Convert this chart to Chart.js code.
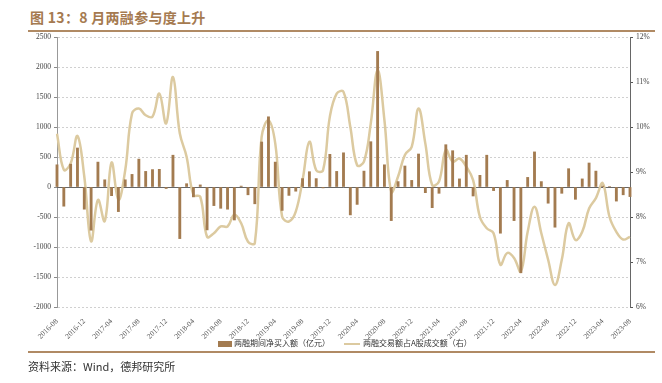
<!DOCTYPE html>
<html><head><meta charset="utf-8">
<script src="https://cdn.jsdelivr.net/npm/chart.js@4/dist/chart.umd.min.js"></script>
<style>
body{margin:0;width:662px;height:383px;background:#fff;position:relative;overflow:hidden;font-family:"Noto Sans CJK SC",sans-serif}
#title{position:absolute;left:30px;top:7px;font-size:14px;font-weight:bold;color:#a57a50;letter-spacing:0.3px;white-space:nowrap}
.rule{position:absolute;left:28px;width:627px;height:2px;background:#b08a64}
#wrap{position:absolute;left:0;top:0;width:662px;height:383px}
.leg{position:absolute;top:337px;font-size:8px;color:#333;white-space:nowrap;line-height:12px}
.box{display:inline-block;width:14px;height:6px;background:#a37b50;vertical-align:middle;margin-right:2px}
.ln{display:inline-block;width:16px;height:2px;background:#dccaa0;vertical-align:middle;margin-right:3px}
#source{position:absolute;left:28px;top:358px;font-size:11px;color:#333;white-space:nowrap}
</style></head>
<body>
<div id="title">图 13：8 月两融参与度上升</div>
<div class="rule" style="top:30px"></div>
<div id="wrap"><canvas id="c" width="662" height="383"></canvas></div>
<div class="leg" style="left:218px"><span class="box"></span>两融期间净买入额（亿元）</div>
<div class="leg" style="left:344px"><span class="ln"></span>两融交易额占A股成交额（右）</div>
<div class="rule" style="top:351px"></div>
<div id="source">资料来源：Wind，德邦研究所</div>
<script>
const startYear = 2016, startMonth = 8, monthCount = 85;
const months = [];
for (let i = 0; i < monthCount; i++) {
  const m = startMonth - 1 + i;
  const y = startYear + Math.floor(m / 12);
  const mm = (m % 12) + 1;
  months.push(y + '-' + String(mm).padStart(2, '0'));
}
// 两融期间净买入额（亿元）
const netBuy = [370,-320,380,650,-370,-720,415,120,-145,-410,
  120,210,465,260,290,295,-25,530,-860,55,
  -165,35,-715,-310,-355,-370,-550,15,-130,-280,
  750,1170,415,-390,-140,-70,140,255,140,-15,
  545,260,570,-465,-290,265,755,2260,370,-560,
  90,350,110,550,-95,-345,-105,705,605,135,
  530,-150,195,530,-60,-770,110,-560,-1430,160,
  585,90,-270,-670,-105,305,-205,135,400,265,
  15,8,-235,-130,-160];
// 两融交易额占A股成交额（%）
const ratio = [9.85,9.05,9.19,9.8,8.9,7.46,8.38,7.91,9.21,8.38,
  9.04,10.3,10.41,10.26,10.23,10.74,10.08,11.11,9.86,9.34,
  8.49,8.45,7.56,7.64,7.79,7.79,8.05,7.86,7.45,7.42,
  9.78,10.15,9.63,8.01,7.9,8.12,8.82,9.67,9.04,9.04,
  10.23,10.74,10.78,10.0,9.15,9.23,10.08,11.26,10.15,8.56,
  8.9,9.38,9.56,10.41,9.63,8.71,8.79,9.49,9.23,9.3,
  9.12,8.82,8.0,7.75,7.64,6.94,7.2,7.09,6.79,7.67,
  8.23,7.64,7.05,6.49,7.05,7.86,7.49,7.67,8.19,8.42,
  8.75,8.0,7.67,7.5,7.56];
const leftTicks = [-2000,-1500,-1000,-500,0,500,1000,1500,2000,2500];
const rightTicks = [6,7,8,9,10,11,12];

const zeroLine = {
  id: 'zeroLine',
  beforeDatasetsDraw(chart) {
    const y = chart.scales.y.getPixelForValue(0);
    const a = chart.chartArea, ctx = chart.ctx;
    ctx.save();
    ctx.strokeStyle = '#666'; ctx.lineWidth = 1;
    ctx.beginPath(); ctx.moveTo(a.left, Math.round(y) + 0.5); ctx.lineTo(a.right, Math.round(y) + 0.5); ctx.stroke();
    ctx.restore();
  }
};
const tickFont = {family: '"Liberation Serif", serif', size: 7.5};
new Chart(document.getElementById('c'), {
  data: {
    labels: months,
    datasets: [
      {type: 'bar', label: '两融期间净买入额（亿元）', data: netBuy, yAxisID: 'y',
       backgroundColor: '#a37b50', barThickness: 2.2, order: 0, clip: false},
      {type: 'line', label: '两融交易额占A股成交额（右）', data: ratio, yAxisID: 'y1',
       borderColor: '#dccaa0', borderWidth: 2.5, pointRadius: 0, tension: 0.4, order: 1, fill: false}
    ]
  },
  options: {
    responsive: false, animation: false, maintainAspectRatio: false,
    layout: {padding: {top: 37, left: 0, right: 0, bottom: 0}},
    plugins: {legend: {display: false}, tooltip: {enabled: false}},
    scales: {
      x: {
        type: 'category', offset: false,
        grid: {display: false}, border: {display: false},
        ticks: {autoSkip: false, maxRotation: 45, minRotation: 45, color: '#555', font: tickFont, padding: 2,
          callback: (v, i) => (i % 4 === 0 ? months[i] : '')},
        afterFit: s => { s.height = 76; }
      },
      y: {
        position: 'left', min: -2000, max: 2500,
        afterBuildTicks: s => { s.ticks = leftTicks.map(v => ({value: v})); },
        grid: {color: '#d0d0d0', tickColor: '#888', tickLength: 3, lineWidth: 1},
        border: {display: true, color: '#999', dash: [2, 2], width: 1},
        ticks: {color: '#444', font: tickFont, padding: 3, callback: v => String(v)},
        afterFit: s => { s.width = 57; }
      },
      y1: {
        position: 'right', min: 6, max: 12,
        afterBuildTicks: s => { s.ticks = rightTicks.map(v => ({value: v})); },
        grid: {drawOnChartArea: false, tickColor: '#555', tickLength: 3},
        border: {display: true, color: '#666', width: 1},
        ticks: {color: '#444', font: tickFont, padding: 3, callback: v => v + '%'},
        afterFit: s => { s.width = 32; }
      }
    }
  },
  plugins: [zeroLine]
});
</script>
</body></html>
